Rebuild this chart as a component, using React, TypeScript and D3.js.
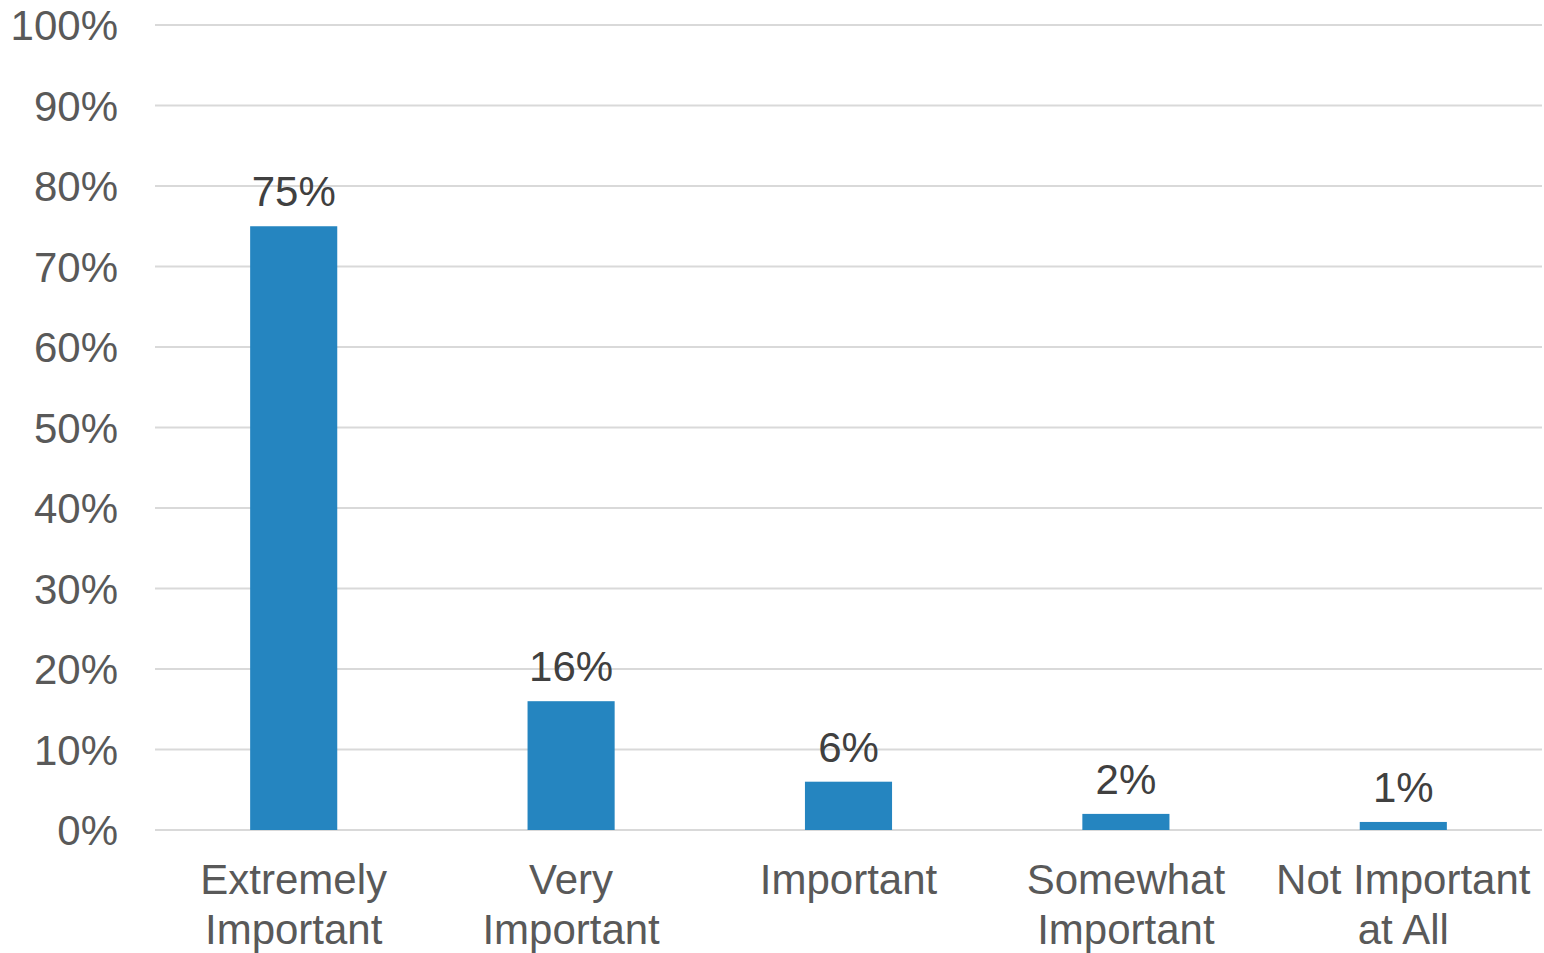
import React from "react";
import * as d3 from "d3";

const categories: string[][] = [
  ["Extremely", "Important"],
  ["Very", "Important"],
  ["Important"],
  ["Somewhat", "Important"],
  ["Not Important", "at All"],
];
const values: number[] = [75, 16, 6, 2, 1];
const yTicks: number[] = [0, 10, 20, 30, 40, 50, 60, 70, 80, 90, 100];

const W = 1544;
const H = 953;
const left = 155;
const right = 1542;
const top = 25;
const bottom = 830;
const FONT = "'Liberation Sans', Arial, sans-serif";

export default function App() {
  const keys = categories.map((c) => c.join(" "));
  const x = d3.scaleBand<string>().domain(keys).range([left, right]).paddingInner(0).paddingOuter(0);
  const y = d3.scaleLinear().domain([0, 100]).range([bottom, top]);
  const barW = x.bandwidth() * 0.314;

  return (
    <svg width={W} height={H} style={{ position: "absolute", left: 0, top: 0, display: "block", background: "#fff" }}>
      {yTicks.map((t) => (
        <g key={t}>
          <line x1={left} x2={right} y1={y(t)} y2={y(t)} stroke="#D9D9D9" strokeWidth={2} />
          <text x={118} y={y(t)} dy="0.36em" textAnchor="end" fontFamily={FONT} fontSize={42} fill="#595959">
            {t}%
          </text>
        </g>
      ))}
      {values.map((v, i) => {
        const cx = (x(keys[i]) as number) + x.bandwidth() / 2;
        return (
          <g key={keys[i]}>
            <rect x={cx - barW / 2} y={y(v)} width={barW} height={y(0) - y(v)} fill="#2585C0" />
            <text x={cx} y={y(v) - 20} textAnchor="middle" fontFamily={FONT} fontSize={42} fill="#404040">
              {v}%
            </text>
            {categories[i].map((line, j) => (
              <text key={j} x={cx} y={894 + j * 50} textAnchor="middle" fontFamily={FONT} fontSize={42} fill="#595959">
                {line}
              </text>
            ))}
          </g>
        );
      })}
    </svg>
  );
}
